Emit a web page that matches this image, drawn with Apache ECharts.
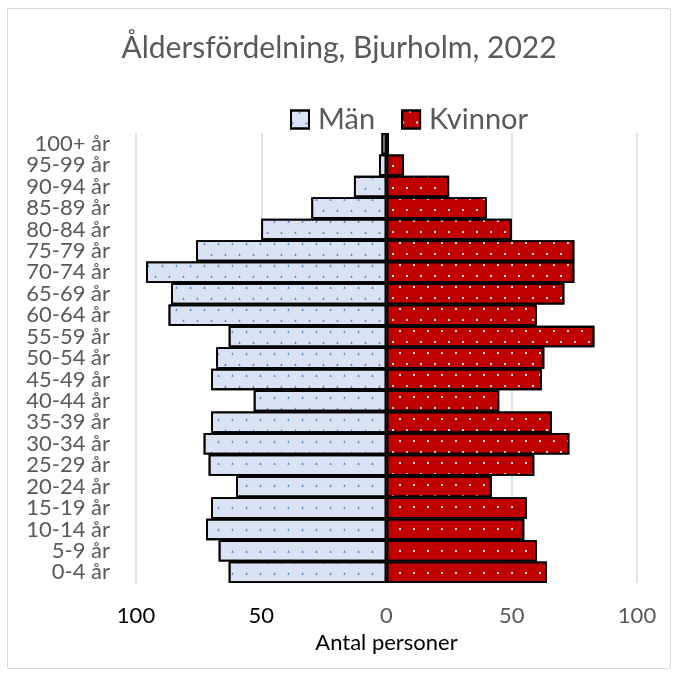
<!DOCTYPE html>
<html>
<head>
<meta charset="utf-8">
<script src="https://cdn.jsdelivr.net/npm/echarts@6/dist/echarts.min.js"></script>
<style>
  html, body { margin: 0; padding: 0; background: #fff; }
  #chart { width: 678px; height: 675px; }
</style>
</head>
<body>
<div id="chart"></div>
<script>
  // åldersgrupper, från yngst (nederst) till äldst (överst)
  const ageGroups = ['0-4 år', '5-9 år', '10-14 år', '15-19 år', '20-24 år', '25-29 år', '30-34 år',
    '35-39 år', '40-44 år', '45-49 år', '50-54 år', '55-59 år', '60-64 år', '65-69 år',
    '70-74 år', '75-79 år', '80-84 år', '85-89 år', '90-94 år', '95-99 år', '100+ år'];
  const men   = [63, 67, 72, 70, 60, 71, 73, 70, 53, 70, 68, 63, 87, 86, 96, 76, 50, 30, 13, 3, 2];
  const women = [64, 60, 55, 56, 42, 59, 73, 66, 45, 62, 63, 83, 60, 71, 75, 75, 50, 40, 25, 7, 1];

  const font = 'Lato, "Open Sans", sans-serif';
  const chart = echarts.init(document.getElementById('chart'), null, { renderer: 'canvas' });

  const option = {
    animation: false,
    textStyle: { fontFamily: font },
    graphic: [{
      type: 'rect', silent: true,
      shape: { x: 7.5, y: 8.5, width: 663, height: 660 },
      style: { fill: 'none', stroke: '#d9d9d9', lineWidth: 1 }
    }],
    title: {
      text: 'Åldersfördelning, Bjurholm, 2022',
      left: 'center', top: 28,
      textStyle: { fontFamily: font, fontSize: 30, fontWeight: 'normal', color: '#595959' }
    },
    legend: {
      top: 100, left: 285,
      itemWidth: 18, itemHeight: 18, itemGap: 26,
      icon: 'rect',
      textStyle: { fontFamily: font, fontSize: 29, color: '#595959', padding: [0, 0, 0, 4] },
      data: ['Män', 'Kvinnor']
    },
    grid: { left: 136, right: 41, top: 133, bottom: 92, containLabel: false },
    xAxis: {
      type: 'value', min: -100, max: 100, interval: 50,
      name: 'Antal personer', nameLocation: 'middle', nameGap: 43,
      nameTextStyle: { fontFamily: font, fontSize: 22, color: '#000' },
      axisLine: { show: false }, axisTick: { show: false },
      splitLine: { lineStyle: { color: '#d9d9d9', width: 1.5 } },
      axisLabel: {
        margin: 22, fontSize: 22,
        formatter: v => v < 0 ? '{b|' + Math.abs(v) + '}' : '{g|' + v + '}',
        rich: {
          b: { color: '#000', fontSize: 22, fontFamily: font },
          g: { color: '#595959', fontSize: 22, fontFamily: font }
        }
      }
    },
    yAxis: {
      type: 'category', data: ageGroups,
      axisLine: { show: false }, axisTick: { show: false },
      axisLabel: { interval: 0, margin: 26, fontSize: 22, color: '#595959', fontFamily: font }
    },
    series: [
      {
        name: 'Män', type: 'bar', stack: 'pyr',
        barCategoryGap: '0%',
        data: men.map(v => -v),
        itemStyle: {
          color: '#dae3f3', borderColor: '#000', borderWidth: 1.8,
          decal: {
            symbol: 'triangle', symbolSize: 0.8, color: '#4a7cc9',
            dashArrayX: [[3, 11], [0, 7, 3, 4]], dashArrayY: [3, 7.7], rotation: 0
          }
        }
      },
      {
        name: 'Kvinnor', type: 'bar', stack: 'pyr',
        barCategoryGap: '0%',
        data: women,
        itemStyle: {
          color: '#c00000', borderColor: '#000', borderWidth: 1.8,
          decal: {
            symbol: 'rect', symbolSize: 1, color: '#ffe0e0',
            dashArrayX: [[2, 12], [0, 7, 2, 5]], dashArrayY: [2, 8.7], rotation: 0
          }
        }
      }
    ]
  };

  chart.setOption(option);
  window.addEventListener('resize', () => chart.resize());
</script>
</body>
</html>
